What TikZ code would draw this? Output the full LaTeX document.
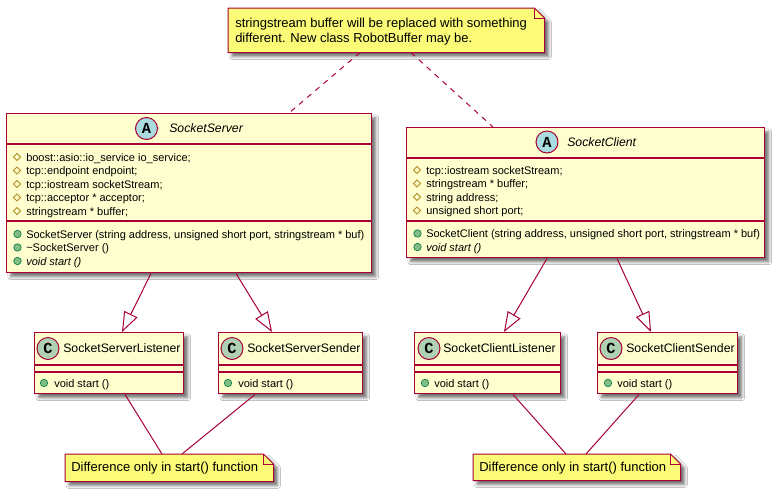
\documentclass[tikz,border=0pt]{standalone}
\usepackage{fontspec}
\setmainfont{Liberation Sans}
\newfontfamily\spotfont{Liberation Mono}
\usetikzlibrary{arrows.meta,calc,shadows.blur}
\definecolor{bord}{HTML}{A80036}
\definecolor{clsfill}{HTML}{FEFECE}
\definecolor{notefill}{HTML}{FBFB77}
\definecolor{afill}{HTML}{A9DCDF}
\definecolor{cfill}{HTML}{ADD1B2}
\definecolor{protc}{HTML}{B38D22}
\definecolor{pubfill}{HTML}{84BE84}
\definecolor{pubbord}{HTML}{038048}
\tikzset{
  shad/.style={blur shadow={shadow xshift=3pt, shadow yshift=-3pt, shadow blur radius=2.2pt, shadow opacity=55}},
  box/.style={draw=bord, fill=clsfill, line width=1.1pt, inner sep=0, anchor=north west, shad},
  notebox/.style={inner sep=0, anchor=north west},
  sepline/.style={draw=bord, line width=1.1pt},
  member/.style={anchor=base west, inner sep=0, font=\fontsize{8.25pt}{10pt}\selectfont},
  ctitle/.style={anchor=base west, inner sep=0, font=\fontsize{9.2pt}{11pt}\selectfont},
  notetext/.style={anchor=base west, inner sep=0, font=\fontsize{9.75pt}{12pt}\selectfont},
  spot/.style={circle, draw=bord, line width=0.75pt, minimum size=16.5pt, inner sep=0, font=\spotfont\bfseries\fontsize{11.5pt}{11.5pt}\selectfont},
  noteshape/.style={fill=notefill, draw=bord, line width=0.75pt, line join=miter, shad},
  noteline/.style={draw=bord, line width=0.75pt},
  inh/.style={draw=bord, line width=0.75pt, -{Triangle[open, length=15pt, width=11pt]}},
  dashline/.style={draw=bord, line width=0.75pt, dash pattern=on 4pt off 4pt},
  plainline/.style={draw=bord, line width=0.75pt},
  prot/.pic={\draw[protc, line width=0.6pt] (-3.5,0)--(0,-3.5)--(3.5,0)--(0,3.5)--cycle;},
  pub/.pic={\filldraw[fill=pubfill, draw=pubbord, line width=0.5pt] (0,0) circle (2.8pt);}
}
\begin{document}
\begin{tikzpicture}[x=0.75pt,y=-0.75pt]
\useasboundingbox (0,0) rectangle (782,490);
\fill[white] (0,0) rectangle (782,490);

% ---------- top note ----------
\node[notebox, minimum width=316*0.75pt, minimum height=44*0.75pt] (nt) at (228,8) {};
\filldraw[noteshape] (nt.north west) -- ($(nt.north east)+(-10,0)$) -- ($(nt.north east)+(0,10)$) -- (nt.south east) -- (nt.south west) -- cycle;
\draw[noteline] ($(nt.north east)+(-10,0)$) |- ($(nt.north east)+(0,10)$);
\node[notetext] (nt1) at (235,27.5) {stringstream buffer will be replaced with something};
\node[notetext] (nt2) at (235,42.3) {different. New class RobotBuffer may be.};

% ---------- SocketServer ----------
\node[box, minimum width=365*0.75pt, minimum height=159*0.75pt] (ss) at (6,113) {};
\draw[sepline] (6,144) -- (371,144);
\draw[sepline] (6,221) -- (371,221);
\node[spot, fill=afill] (ssspot) at (146.5,128.5) {A};
\node[ctitle, font=\fontsize{9.2pt}{11pt}\selectfont\itshape] (sstitle) at (169,132.6) {SocketServer};
\foreach \t [count=\i, evaluate=\i as \y using 157+13.5*(\i-1)] in
  {{boost::asio::io\_service io\_service;},{tcp::endpoint endpoint;},{tcp::iostream socketStream;},{tcp::acceptor * acceptor;},{stringstream * buffer;}}
  {\pic at (17,\y) {prot}; \node[member] (ssa\i) at (26,\y+4) {\t};}
\foreach \t [count=\i, evaluate=\i as \y using 234+13.5*(\i-1)] in
  {{SocketServer (string address, unsigned short port, stringstream * buf)},{\textasciitilde SocketServer ()},{\itshape void start ()}}
  {\pic at (17.5,\y) {pub}; \node[member] (ssm\i) at (26,\y+4) {\t};}

% ---------- SocketClient ----------
\node[box, minimum width=358*0.75pt, minimum height=130*0.75pt] (sc) at (406,127) {};
\draw[sepline] (406,158) -- (764,158);
\draw[sepline] (406,221) -- (764,221);
\node[spot, fill=afill] (scspot) at (547,142) {A};
\node[ctitle, font=\fontsize{9.2pt}{11pt}\selectfont\itshape] (sctitle) at (567,146.1) {SocketClient};
\foreach \t [count=\i, evaluate=\i as \y using 170+13.5*(\i-1)] in
  {{tcp::iostream socketStream;},{stringstream * buffer;},{string address;},{unsigned short port;}}
  {\pic at (417,\y) {prot}; \node[member] (sca\i) at (426,\y+4) {\t};}
\foreach \t [count=\i, evaluate=\i as \y using 233.5+13.5*(\i-1)] in
  {{SocketClient (string address, unsigned short port, stringstream * buf)},{\itshape void start ()}}
  {\pic at (417.5,\y) {pub}; \node[member] (scm\i) at (426,\y+4) {\t};}

% ---------- sub classes ----------
\node[box, minimum width=149*0.75pt, minimum height=61*0.75pt] (ssl) at (34,332) {};
\draw[sepline] (34,365) -- (183,365);
\draw[sepline] (34,372) -- (183,372);
\node[spot, fill=cfill] (sslspot) at (48,348.5) {C};
\node[ctitle] (ssltitle) at (63,352.6) {SocketServerListener};
\pic at (44,383) {pub};
\node[member] (sslm) at (54,387) {void start ()};

\node[box, minimum width=144*0.75pt, minimum height=61*0.75pt] (sss) at (218,332) {};
\draw[sepline] (218,365) -- (362,365);
\draw[sepline] (218,372) -- (362,372);
\node[spot, fill=cfill] (sssspot) at (232,348.5) {C};
\node[ctitle] (ssstitle) at (247,352.6) {SocketServerSender};
\pic at (228,383) {pub};
\node[member] (sssm) at (238,387) {void start ()};

\node[box, minimum width=146*0.75pt, minimum height=61*0.75pt] (scl) at (414,332) {};
\draw[sepline] (414,365) -- (560,365);
\draw[sepline] (414,372) -- (560,372);
\node[spot, fill=cfill] (sclspot) at (429,348.5) {C};
\node[ctitle] (scltitle) at (443,352.6) {SocketClientListener};
\pic at (425,383) {pub};
\node[member] (sclm) at (434,387) {void start ()};

\node[box, minimum width=140*0.75pt, minimum height=61*0.75pt] (scs) at (597,332) {};
\draw[sepline] (597,365) -- (737,365);
\draw[sepline] (597,372) -- (737,372);
\node[spot, fill=cfill] (scsspot) at (611,348.5) {C};
\node[ctitle] (scstitle) at (626,352.6) {SocketClientSender};
\pic at (608,383) {pub};
\node[member] (scsm) at (617,387) {void start ()};

% ---------- bottom notes ----------
\node[notebox, minimum width=208*0.75pt, minimum height=27*0.75pt] (ns) at (65,454) {};
\filldraw[noteshape] (ns.north west) -- ($(ns.north east)+(-10,0)$) -- ($(ns.north east)+(0,10)$) -- (ns.south east) -- (ns.south west) -- cycle;
\draw[noteline] ($(ns.north east)+(-10,0)$) |- ($(ns.north east)+(0,10)$);
\node[notetext] (ns1) at (71,471.5) {Difference only in start() function};

\node[notebox, minimum width=207*0.75pt, minimum height=26*0.75pt] (nc) at (473,454) {};
\filldraw[noteshape] (nc.north west) -- ($(nc.north east)+(-10,0)$) -- ($(nc.north east)+(0,10)$) -- (nc.south east) -- (nc.south west) -- cycle;
\draw[noteline] ($(nc.north east)+(-10,0)$) |- ($(nc.north east)+(0,10)$);
\node[notetext] (nc1) at (479,471.5) {Difference only in start() function};

% ---------- connectors ----------
\draw[dashline] ($(nt.south west)+(132,0)$) -- ($(ss.north west)+(283,0)$);
\draw[dashline] ($(nt.south west)+(183,0)$) -- ($(sc.north west)+(87,0)$);

\draw[inh] ($(ss.south west)+(145,0)$) -- ($(ssl.north west)+(88,0)$);
\draw[inh] ($(ss.south west)+(230,0)$) -- ($(sss.north west)+(54,0)$);
\draw[inh] ($(sc.south west)+(141,0)$) -- ($(scl.north west)+(90,0)$);
\draw[inh] ($(sc.south west)+(211,0)$) -- ($(scs.north west)+(54,0)$);

\draw[plainline] ($(ssl.south west)+(91,0)$) -- ($(ns.north west)+(97,0)$);
\draw[plainline] ($(sss.south west)+(37,0)$) -- ($(ns.north west)+(117,0)$);
\draw[plainline] ($(scl.south west)+(99,0)$) -- ($(nc.north west)+(93,0)$);
\draw[plainline] ($(scs.south west)+(42,0)$) -- ($(nc.north west)+(113,0)$);
\end{tikzpicture}
\end{document}
